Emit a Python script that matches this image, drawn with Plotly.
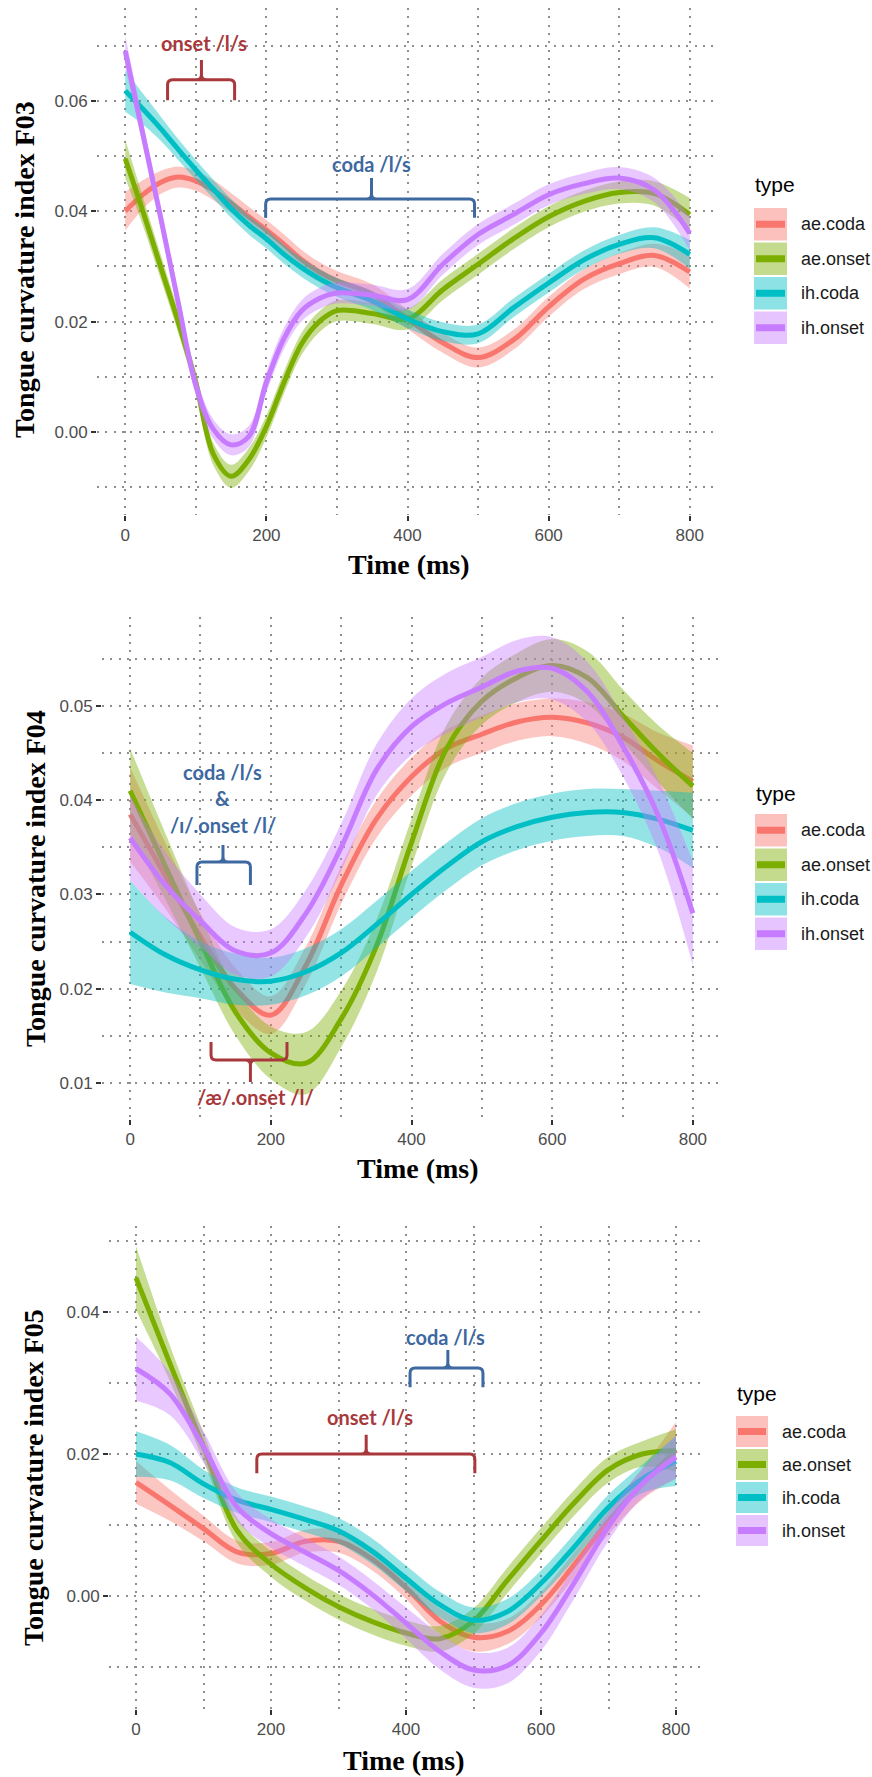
import plotly.graph_objects as go

W, H = 872, 1777

SERIES = ["ae.coda", "ae.onset", "ih.coda", "ih.onset"]
COLORS = ["#F8766D", "#7CAE00", "#00BFC4", "#C77CFF"]

# ---------------- F03 ----------------
time_f03 = [0, 25, 50, 75, 100, 125, 150, 175, 200, 225, 250, 275, 300,
            350, 400, 450, 500, 550, 600, 650, 700, 750, 800]
f03_ae_coda = [0.0400, 0.0430, 0.0452, 0.0462, 0.0455, 0.0438, 0.0415, 0.0390,
               0.0366, 0.0340, 0.0312, 0.0290, 0.0274, 0.0250, 0.0205, 0.0162,
               0.0135, 0.0167, 0.0227, 0.0277, 0.0305, 0.0320, 0.0290]
f03_ae_coda_se = [0.0035, 0.0026, 0.0021, 0.0019, 0.0018, 0.0018, 0.0018, 0.0018,
                  0.0018, 0.0018, 0.0018, 0.0018, 0.0018, 0.0018, 0.0018, 0.0018,
                  0.0018, 0.0018, 0.0018, 0.0018, 0.0019, 0.0021, 0.0030]
f03_ae_onset = [0.0495, 0.0400, 0.0300, 0.0200, 0.0090, -0.0040, -0.0080, -0.0050,
                0.0010, 0.0090, 0.0160, 0.0200, 0.0220, 0.0215, 0.0205, 0.0258,
                0.0304, 0.0350, 0.0390, 0.0418, 0.0434, 0.0432, 0.0394]
f03_ae_onset_se = [0.0035, 0.0026, 0.0022, 0.0020, 0.0020, 0.0020, 0.0021, 0.0021,
                   0.0020, 0.0020, 0.0020, 0.0019, 0.0019, 0.0019, 0.0019, 0.0019,
                   0.0019, 0.0019, 0.0019, 0.0019, 0.0020, 0.0022, 0.0030]
f03_ih_coda = [0.0618, 0.0585, 0.0550, 0.0512, 0.0475, 0.0440, 0.0405, 0.0375,
               0.0350, 0.0322, 0.0298, 0.0278, 0.0262, 0.0238, 0.0205, 0.0182,
               0.0178, 0.0225, 0.0270, 0.0312, 0.0340, 0.0352, 0.0322]
f03_ih_coda_se = [0.0038, 0.0028, 0.0022, 0.0019, 0.0018, 0.0017, 0.0017, 0.0017,
                  0.0017, 0.0017, 0.0017, 0.0017, 0.0017, 0.0017, 0.0017, 0.0017,
                  0.0017, 0.0017, 0.0017, 0.0017, 0.0017, 0.0019, 0.0026]
f03_ih_onset = [0.0690, 0.0540, 0.0390, 0.0235, 0.0085, 0.0005, -0.0023, -0.0008,
                0.0090, 0.0170, 0.0220, 0.0242, 0.0252, 0.0248, 0.0240, 0.0304,
                0.0358, 0.0394, 0.0430, 0.0450, 0.0460, 0.0438, 0.0360]
f03_ih_onset_se = [0.0028, 0.0022, 0.0019, 0.0018, 0.0018, 0.0018, 0.0019, 0.0019,
                   0.0019, 0.0019, 0.0019, 0.0019, 0.0019, 0.0019, 0.0019, 0.0019,
                   0.0019, 0.0019, 0.0019, 0.0019, 0.0020, 0.0022, 0.0030]

# ---------------- F04 ----------------
time_f04 = [0, 50, 100, 150, 200, 250, 300, 350, 400, 450, 500, 550, 600,
            650, 700, 750, 800]
f04_ae_coda = [0.0385, 0.0320, 0.0255, 0.0200, 0.0172, 0.0225, 0.0310, 0.0380,
               0.0425, 0.0455, 0.0470, 0.0483, 0.0488, 0.0482, 0.0467, 0.0442, 0.0420]
f04_ae_coda_se = [0.0050, 0.0035, 0.0025, 0.0022, 0.0020, 0.0020, 0.0020, 0.0020,
                  0.0020, 0.0020, 0.0020, 0.0020, 0.0020, 0.0022, 0.0025, 0.0030, 0.0038]
f04_ae_onset = [0.0410, 0.0330, 0.0250, 0.0175, 0.0132, 0.0121, 0.0168, 0.0245,
                0.0355, 0.0455, 0.0505, 0.0530, 0.0543, 0.0530, 0.0490, 0.0450, 0.0415]
f04_ae_onset_se = [0.0045, 0.0035, 0.0028, 0.0025, 0.0028, 0.0033, 0.0030, 0.0028,
                   0.0025, 0.0025, 0.0025, 0.0026, 0.0028, 0.0028, 0.0028, 0.0030, 0.0035]
f04_ih_coda = [0.0260, 0.0236, 0.0220, 0.0210, 0.0208, 0.0218, 0.0238, 0.0268,
               0.0300, 0.0330, 0.0356, 0.0372, 0.0382, 0.0387, 0.0387, 0.0380, 0.0368]
f04_ih_coda_se = [0.0055, 0.0040, 0.0030, 0.0027, 0.0025, 0.0025, 0.0025, 0.0025,
                  0.0025, 0.0025, 0.0025, 0.0025, 0.0025, 0.0025, 0.0025, 0.0030, 0.0040]
f04_ih_onset = [0.0360, 0.0310, 0.0272, 0.0240, 0.0238, 0.0280, 0.0350, 0.0432,
                0.0478, 0.0503, 0.0520, 0.0537, 0.0540, 0.0515, 0.0458, 0.0385, 0.0280]
f04_ih_onset_se = [0.0045, 0.0035, 0.0028, 0.0025, 0.0025, 0.0025, 0.0025, 0.0027,
                   0.0030, 0.0032, 0.0032, 0.0033, 0.0033, 0.0032, 0.0032, 0.0038, 0.0055]

# ---------------- F05 ----------------
time_f05 = [0, 50, 100, 150, 200, 250, 300, 350, 400, 450, 500, 550, 600,
            650, 700, 750, 800]
f05_ae_coda = [0.0160, 0.0128, 0.0095, 0.0062, 0.0060, 0.0077, 0.0077, 0.0052,
               0.0012, -0.0035, -0.0058, -0.0050, -0.0012, 0.0045, 0.0105, 0.0158, 0.0205]
f05_ae_coda_se = [0.0030, 0.0022, 0.0018, 0.0016, 0.0016, 0.0016, 0.0016, 0.0016,
                  0.0016, 0.0018, 0.0020, 0.0018, 0.0018, 0.0018, 0.0018, 0.0022, 0.0040]
f05_ae_onset = [0.0448, 0.0328, 0.0210, 0.0092, 0.0045, 0.0012, -0.0015, -0.0036,
                -0.0052, -0.0060, -0.0035, 0.0022, 0.0078, 0.0132, 0.0178, 0.0200, 0.0205]
f05_ae_onset_se = [0.0045, 0.0025, 0.0020, 0.0018, 0.0018, 0.0018, 0.0018, 0.0018,
                   0.0018, 0.0018, 0.0018, 0.0018, 0.0018, 0.0018, 0.0018, 0.0018, 0.0030]
f05_ih_coda = [0.0200, 0.0188, 0.0158, 0.0135, 0.0122, 0.0108, 0.0092, 0.0063,
               0.0025, -0.0012, -0.0034, -0.0022, 0.0018, 0.0070, 0.0125, 0.0165, 0.0190]
f05_ih_coda_se = [0.0032, 0.0025, 0.0020, 0.0018, 0.0018, 0.0018, 0.0018, 0.0018,
                  0.0018, 0.0018, 0.0018, 0.0018, 0.0018, 0.0018, 0.0018, 0.0020, 0.0035]
f05_ih_onset = [0.0320, 0.0285, 0.0210, 0.0125, 0.0088, 0.0062, 0.0036, 0.0002,
                -0.0038, -0.0078, -0.0104, -0.0098, -0.0052, 0.0020, 0.0098, 0.0158, 0.0196]
f05_ih_onset_se = [0.0045, 0.0030, 0.0022, 0.0020, 0.0020, 0.0020, 0.0020, 0.0020,
                   0.0022, 0.0025, 0.0025, 0.0025, 0.0025, 0.0022, 0.0020, 0.0020, 0.0030]

x_ticks = [0, 200, 400, 600, 800]
x_minor = [100, 300, 500, 700]
X_RANGE = (-40, 840)

panels = [
    dict(name="F03", t=time_f03,
         means=[f03_ae_coda, f03_ae_onset, f03_ih_coda, f03_ih_onset],
         ses=[f03_ae_coda_se, f03_ae_onset_se, f03_ih_coda_se, f03_ih_onset_se],
         px=(97, 718), py=(8, 515), yrange=(-0.0150, 0.0768),
         yticks=[0.00, 0.02, 0.04, 0.06], yminor=[-0.01, 0.01, 0.03, 0.05, 0.07],
         ytitle=(25, 270), xtitle=(409, 565),
         legend=dict(x=754, w=33, top=207, h=34.5, title_y=185)),
    dict(name="F04", t=time_f04,
         means=[f04_ae_coda, f04_ae_onset, f04_ih_coda, f04_ih_onset],
         ses=[f04_ae_coda_se, f04_ae_onset_se, f04_ih_coda_se, f04_ih_onset_se],
         px=(102, 721), py=(617, 1119), yrange=(0.00618, 0.05944),
         yticks=[0.01, 0.02, 0.03, 0.04, 0.05],
         yminor=[0.015, 0.025, 0.035, 0.045, 0.055],
         ytitle=(36, 879), xtitle=(418, 1168),
         legend=dict(x=755, w=32, top=813, h=34.5, title_y=793)),
    dict(name="F05", t=time_f05,
         means=[f05_ae_coda, f05_ae_onset, f05_ih_coda, f05_ih_onset],
         ses=[f05_ae_coda_se, f05_ae_onset_se, f05_ih_coda_se, f05_ih_onset_se],
         px=(109, 703), py=(1226, 1709), yrange=(-0.0159, 0.0521),
         yticks=[0.00, 0.02, 0.04], yminor=[-0.01, 0.01, 0.03, 0.05],
         ytitle=(33, 1478), xtitle=(404, 1760),
         legend=dict(x=736, w=32, top=1415, h=33, title_y=1393)),
]


def rgba(hex_color, a):
    h = hex_color.lstrip("#")
    r, g, b = int(h[0:2], 16), int(h[2:4], 16), int(h[4:6], 16)
    return f"rgba({r},{g},{b},{a})"


def paper_x(px):
    return px / W


def paper_y(py):
    return 1 - py / H


GRID = dict(showgrid=True, gridcolor="#8f8f8f", gridwidth=2, griddash="2px,6.3px")
TICKFONT = dict(family="Liberation Sans", size=17, color="#4d4d4d")

fig = go.Figure()
layout = dict(width=W, height=H, margin=dict(l=0, r=0, t=0, b=0),
              paper_bgcolor="white", plot_bgcolor="white", showlegend=False)
annotations = []
shapes = []

for i, p in enumerate(panels):
    n = "" if i == 0 else str(i + 1)
    xref, yref = "x" + n, "y" + n
    for name, color, mean, se in zip(SERIES, COLORS, p["means"], p["ses"]):
        lo = [m - s for m, s in zip(mean, se)]
        hi = [m + s for m, s in zip(mean, se)]
        fig.add_trace(go.Scatter(x=p["t"], y=lo, mode="lines", xaxis=xref, yaxis=yref,
                                 line=dict(width=0, shape="spline", color=color),
                                 hoverinfo="skip", showlegend=False))
        fig.add_trace(go.Scatter(x=p["t"], y=hi, mode="lines", xaxis=xref, yaxis=yref,
                                 fill="tonexty", fillcolor=rgba(color, 0.42),
                                 line=dict(width=0, shape="spline", color=color),
                                 hoverinfo="skip", showlegend=False))
        fig.add_trace(go.Scatter(x=p["t"], y=mean, mode="lines", xaxis=xref, yaxis=yref,
                                 line=dict(width=5, shape="spline", color=color),
                                 name=name, showlegend=False))

    layout["xaxis" + n] = dict(
        domain=[paper_x(p["px"][0]), paper_x(p["px"][1])], range=list(X_RANGE),
        anchor=yref, tickvals=x_ticks, ticks="outside", ticklen=5, tickwidth=2,
        tickcolor="#333333", tickfont=TICKFONT, zeroline=False, showline=False,
        minor=dict(tickvals=x_minor, ticks="", **GRID), **GRID)
    layout["yaxis" + n] = dict(
        domain=[paper_y(p["py"][1]), paper_y(p["py"][0])], range=list(p["yrange"]),
        anchor=xref, tickvals=p["yticks"], tickformat=".2f", ticks="outside",
        ticklen=5, tickwidth=2, tickcolor="#333333", tickfont=TICKFONT,
        zeroline=False, showline=False,
        minor=dict(tickvals=p["yminor"], ticks="", **GRID), **GRID)

    # axis titles
    annotations.append(dict(
        text="Tongue curvature index " + p["name"], textangle=-90,
        x=paper_x(p["ytitle"][0]), y=paper_y(p["ytitle"][1]), xref="paper", yref="paper",
        xanchor="center", yanchor="middle", showarrow=False,
        font=dict(family="Liberation Serif", size=28, color="#000000", weight="bold")))
    annotations.append(dict(
        text="Time (ms)", x=paper_x(p["xtitle"][0]), y=paper_y(p["xtitle"][1]),
        xref="paper", yref="paper", xanchor="center", yanchor="middle", showarrow=False,
        font=dict(family="Liberation Serif", size=28, color="#000000", weight="bold")))

    # legend
    lg = p["legend"]
    annotations.append(dict(
        text="type", x=paper_x(lg["x"] - 1), y=paper_y(lg["title_y"]), xref="paper",
        yref="paper", xanchor="left", yanchor="middle", showarrow=False,
        font=dict(family="Liberation Sans", size=21, color="#000000")))
    for k, (name, color) in enumerate(zip(SERIES, COLORS)):
        top = lg["top"] + k * lg["h"]
        bot = top + lg["h"]
        mid = (top + bot) / 2
        shapes.append(dict(type="rect", xref="paper", yref="paper",
                           x0=paper_x(lg["x"]), x1=paper_x(lg["x"] + lg["w"]),
                           y0=paper_y(bot - 1), y1=paper_y(top + 1),
                           fillcolor=rgba(color, 0.45), line=dict(width=0)))
        shapes.append(dict(type="line", xref="paper", yref="paper",
                           x0=paper_x(lg["x"] + 2), x1=paper_x(lg["x"] + lg["w"] - 2),
                           y0=paper_y(mid), y1=paper_y(mid),
                           line=dict(color=color, width=7)))
        annotations.append(dict(
            text=name, x=paper_x(lg["x"] + lg["w"] + 12), y=paper_y(mid),
            xref="paper", yref="paper", xanchor="left", yanchor="middle",
            showarrow=False, font=dict(family="Liberation Sans", size=18, color="#1a1a1a")))

RED = "#A8383B"
BLUE = "#3D68A0"
NOTE_FONT = "Lato"


def bracket(k, x0, x1, xm, y_end, y_bar, y_tip, color, r=5):
    """Brace-like bracket in data units of panel k, corners rounded by r pixels."""
    p = panels[k]
    n = "" if k == 0 else str(k + 1)
    rx = r * (X_RANGE[1] - X_RANGE[0]) / (p["px"][1] - p["px"][0])
    ry = r * (p["yrange"][1] - p["yrange"][0]) / (p["py"][1] - p["py"][0])
    de = 1 if y_end > y_bar else -1
    dt = 1 if y_tip > y_bar else -1
    path = (f"M {x0},{y_end} L {x0},{y_bar + de * ry} Q {x0},{y_bar} {x0 + rx},{y_bar} "
            f"L {x1 - rx},{y_bar} Q {x1},{y_bar} {x1},{y_bar + de * ry} L {x1},{y_end} "
            f"M {xm - rx},{y_bar} Q {xm},{y_bar} {xm},{y_bar + dt * ry} L {xm},{y_tip} "
            f"M {xm + rx},{y_bar} Q {xm},{y_bar} {xm},{y_bar + dt * ry}")
    shapes.append(dict(type="path", path=path, xref="x" + n, yref="y" + n,
                       line=dict(color=color, width=3)))


def note(k, x, y, text, color):
    n = "" if k == 0 else str(k + 1)
    annotations.append(dict(text=text, x=x, y=y, xref="x" + n, yref="y" + n,
                            showarrow=False, xanchor="center", yanchor="middle",
                            font=dict(family=NOTE_FONT, size=20, color=color,
                                      weight="bold")))


# F03 notes
note(0, 111, 0.0705, "onset /l/s", RED)
bracket(0, 60, 155, 108, 0.0601, 0.0638, 0.0674, RED)
note(0, 349, 0.0486, "coda /l/s", BLUE)
bracket(0, 199, 495, 349, 0.0388, 0.0422, 0.0460, BLUE)

# F04 notes
note(1, 132, 0.0430, "coda /l/s", BLUE)
note(1, 132, 0.04024, "&", BLUE)
note(1, 132, 0.03737, "/ɪ/.onset /l/", BLUE)
bracket(1, 95, 171, 132, 0.0310, 0.03345, 0.03525, BLUE)
note(1, 178, 0.00851, "/æ/.onset /l/", RED)
bracket(1, 115, 223, 171, 0.01435, 0.01244, 0.0101, RED)

# F05 notes
note(2, 459, 0.0365, "coda /l/s", BLUE)
bracket(2, 406, 514, 462, 0.0294, 0.0321, 0.03465, BLUE)
note(2, 347, 0.0252, "onset /l/s", RED)
bracket(2, 179, 502, 341, 0.0173, 0.0200, 0.0227, RED)

layout["annotations"] = annotations
layout["shapes"] = shapes
fig.update_layout(**layout)

fig.write_html("out.html")
